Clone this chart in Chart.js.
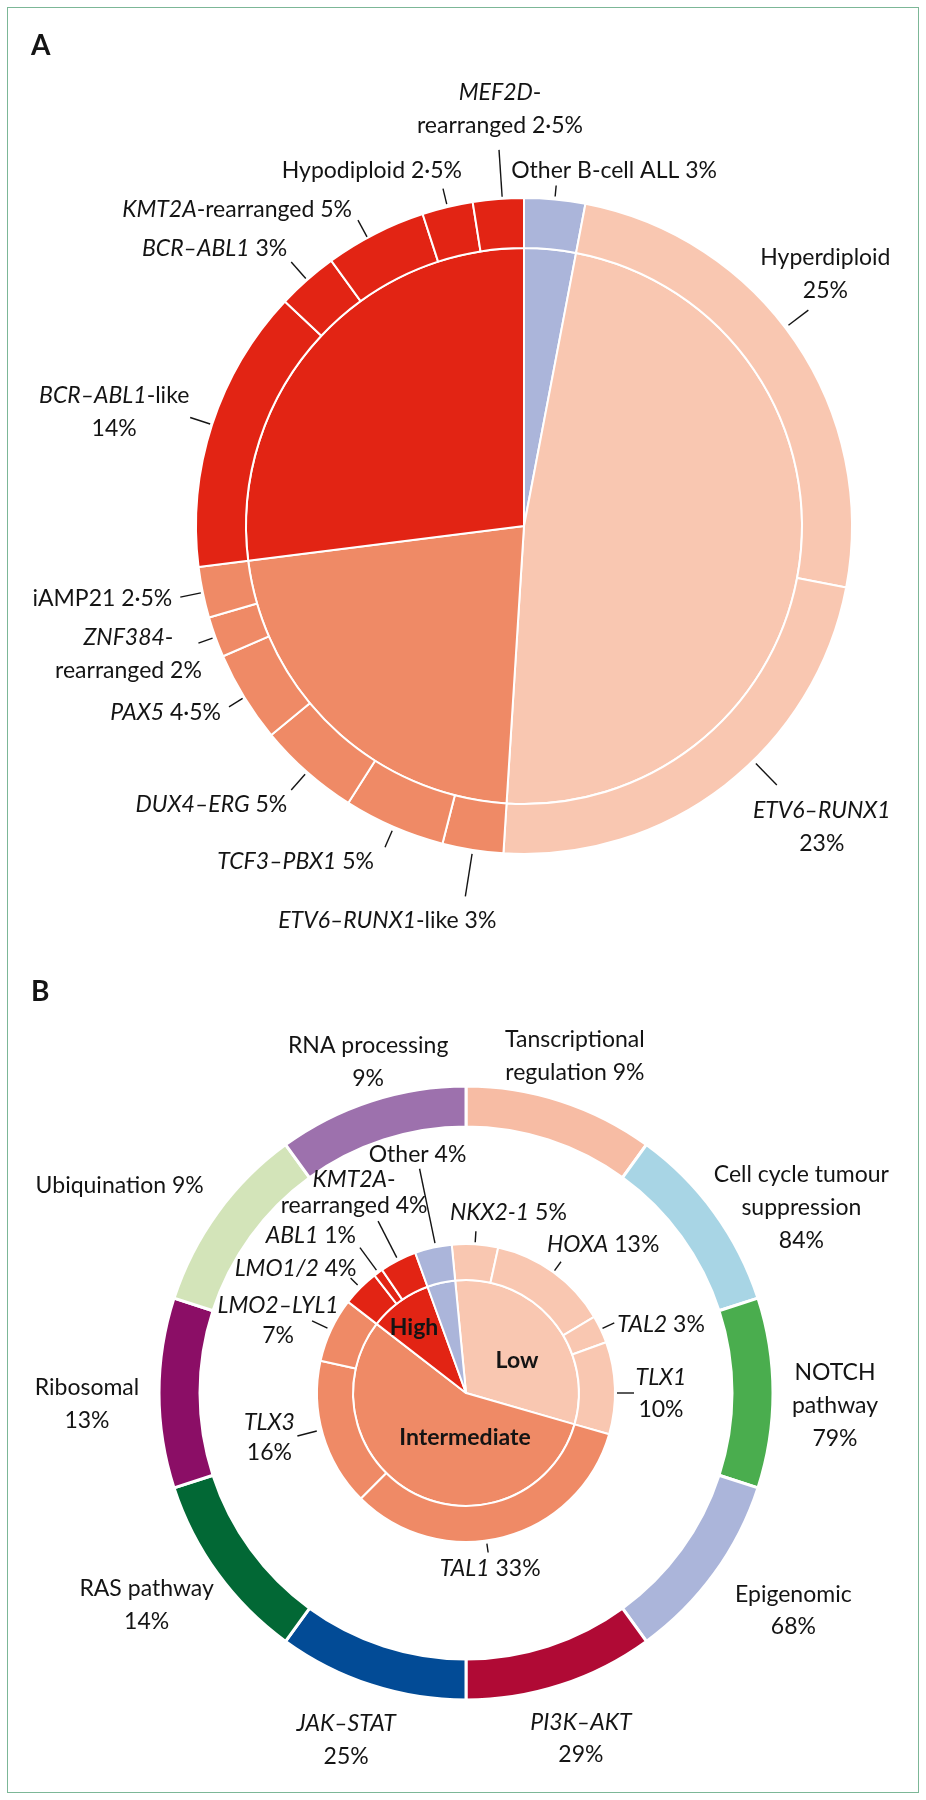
<!DOCTYPE html>
<html>
<head>
<meta charset="utf-8">
<script src="https://cdn.jsdelivr.net/npm/chart.js@4.4.1/dist/chart.umd.min.js"></script>
<style>
  html, body { margin: 0; padding: 0; background: #fff; }
  #page { position: relative; width: 926px; height: 1800px; }
  canvas { position: absolute; left: 0; }
  #frame { position: absolute; left: 7px; top: 7px; width: 912px; height: 1786px;
           border: 1.5px solid #7cb797; box-sizing: border-box; pointer-events: none; }
</style>
</head>
<body>
<div id="page">
  <canvas id="chart-a" width="926" height="960" style="top:0"></canvas>
  <canvas id="chart-b-ring" width="926" height="900" style="top:900px"></canvas>
  <canvas id="chart-b-core" width="926" height="900" style="top:900px"></canvas>
  <div id="frame"></div>
</div>
<script>
// ---- panel A: B-cell ALL subtypes (clockwise from 12 o'clock) ----
// *text* = italic, | = line break
const aSubtypes = ['Other B-cell ALL', 'Hyperdiploid', '*ETV6–RUNX1*', '*ETV6–RUNX1*-like', '*TCF3–PBX1*',
  '*DUX4–ERG*', '*PAX5*', '*ZNF384*-|rearranged', 'iAMP21', '*BCR–ABL1*-like', '*BCR–ABL1*',
  '*KMT2A*-rearranged', 'Hypodiploid', '*MEF2D*-|rearranged'];
const aSubtypePct = [3, 25, 23, 3, 5, 5, 4.5, 2, 2.5, 14, 3, 5, 2.5, 2.5];
const aSubtypeRisk = ['other', 'low', 'low', 'int', 'int', 'int', 'int', 'int', 'int',
  'high', 'high', 'high', 'high', 'high'];
const aRisks = ['other', 'low', 'int', 'high'];
const aRiskPct = [3, 48, 22, 27];

// ---- panel B: T-cell ALL ----
const bPathways = ['Tanscriptional|regulation', 'Cell cycle tumour|suppression', 'NOTCH|pathway', 'Epigenomic',
  '*PI3K–AKT*', '*JAK–STAT*', 'RAS pathway', 'Ribosomal', 'Ubiquination', 'RNA processing'];
const bPathwayPct = [9, 84, 79, 68, 29, 25, 14, 13, 9, 9];
const bPathwaySlots = [1, 1, 1, 1, 1, 1, 1, 1, 1, 1]; // ring sectors are equal
const bSubtypes = ['*NKX2-1*', '*HOXA*', '*TAL2*', '*TLX1*', '*TAL1*', '*TLX3*', '*LMO2–LYL1*',
  '*LMO1/2*', '*ABL1*', '*KMT2A*-|rearranged', 'Other'];
const bSubtypePct = [5, 13, 3, 10, 33, 16, 7, 4, 1, 4, 4];
const bSubtypeRisk = ['low', 'low', 'low', 'low', 'int', 'int', 'int', 'high', 'high', 'high', 'other'];
const bRisks = ['low', 'int', 'high', 'other'];
const bRiskNames = ['Low', 'Intermediate', 'High', ''];
const bRiskPct = [31, 56, 9, 4];

const riskColours = { other: '#abb5da', low: '#f9c7b1', int: '#ef8a66', high: '#e22414' };
const pathwayColours = ['#f7bca4', '#a8d5e5', '#4aad4e', '#abb5da', '#b00a35',
  '#024b96', '#026835', '#8b0e66', '#d3e4b9', '#9d71ad'];

const INK = '#141414';
const FONT = 'Lato, "Open Sans", sans-serif';

function setFont(ctx, italic, size, bold) {
  ctx.font = (italic ? 'italic ' : '') + (bold ? 'bold ' : '') + size + 'px ' + FONT;
}

function drawRich(ctx, str, x, y, align, size, bold) {
  const segs = str.split('*').map((t, i) => {
    setFont(ctx, i % 2 === 1, size, bold);
    return { t: t, it: i % 2 === 1, w: ctx.measureText(t).width };
  });
  const total = segs.reduce((s, g) => s + g.w, 0);
  let cx = align === 'left' ? x : align === 'right' ? x - total : x - total / 2;
  ctx.textAlign = 'left';
  segs.forEach(g => {
    setFont(ctx, g.it, size, bold);
    ctx.fillText(g.t, cx, y);
    cx += g.w;
  });
}

function fmtPct(v) {
  return String(v).replace('.', '·') + '%';
}

function labelLines(name, pct, nl) {
  const parts = name.split('|');
  const last = parts.pop();
  return nl ? parts.concat([last, fmtPct(pct)]) : parts.concat([last + ' ' + fmtPct(pct)]);
}

function arcLabels(cfg) {
  return {
    id: 'arcLabels',
    afterDraw(chart) {
      const ctx = chart.ctx;
      ctx.save();
      ctx.fillStyle = INK;
      ctx.strokeStyle = INK;
      ctx.lineWidth = 1.4;
      ctx.textBaseline = 'alphabetic';
      cfg.sets.forEach(set => {
        const arcs = chart.getDatasetMeta(set.dataset).data;
        set.layout.forEach((it, i) => {
          if (!it) return;
          const p = arcs[i].getProps(['x', 'y', 'startAngle', 'endAngle', 'outerRadius'], true);
          let ax = p.x, ay = p.y;
          if (!set.atCentre) {
            const a = (p.startAngle + p.endAngle) / 2 + (it.da || 0) * Math.PI / 180;
            const c = Math.cos(a), s = Math.sin(a);
            const r1 = p.outerRadius + (it.r1 || 0);
            if (set.leader) {
              const r0 = p.outerRadius + it.r0;
              ctx.beginPath();
              ctx.moveTo(p.x + r0 * c, p.y + r0 * s);
              ctx.lineTo(p.x + r1 * c, p.y + r1 * s);
              ctx.stroke();
            }
            ax = p.x + r1 * c;
            ay = p.y + r1 * s;
          }
          const lines = set.plain ? [set.names[i]] : labelLines(set.names[i], set.values[i], it.nl);
          lines.forEach((ln, k) => drawRich(ctx, ln, ax + it.dx, ay + it.dy + k * (it.lh || set.lh),
            it.align || 'center', set.size, set.bold));
        });
      });
      if (cfg.panel) {
        setFont(ctx, false, 28, true);
        ctx.textAlign = 'left';
        ctx.fillText(cfg.panel.text, cfg.panel.x, cfg.panel.y);
      }
      ctx.restore();
    }
  };
}

const baseOptions = {
  responsive: false,
  animation: false,
  events: [],
  plugins: { legend: { display: false }, tooltip: { enabled: false } }
};

// ---------------- panel A ----------------
new Chart(document.getElementById('chart-a'), {
  type: 'pie',
  data: {
    labels: aSubtypes,
    datasets: [
      { data: aSubtypePct, backgroundColor: aSubtypeRisk.map(r => riskColours[r]),
        borderColor: '#fff', borderWidth: 2, weight: 50 },
      { data: aRiskPct, backgroundColor: aRisks.map(r => riskColours[r]),
        borderColor: '#fff', borderWidth: 2, weight: 278 }
    ]
  },
  options: Object.assign({}, baseOptions, {
    radius: 328,
    layout: { padding: { left: 196, right: 74, top: 198, bottom: 106 } }
  }),
  plugins: [arcLabels({
    panel: { text: 'A', x: 31, y: 55 },
    sets: [{
      dataset: 0, leader: true, names: aSubtypes, values: aSubtypePct, size: 23, lh: 33,
      layout: [
        { r0: 3, r1: 14, dx: -45, dy: -7.5, align: 'left' },
        { da: -3, r0: 4, r1: 29, dx: 17, dy: -45, nl: true },
        { da: -6.5, r0: 4, r1: 34, dx: 45, dy: 33, nl: true },
        { r0: 4, r1: 47, dx: 31, dy: 32, align: 'right' },
        { r0: 4, r1: 22, dx: -11, dy: 22, align: 'right' },
        { r0: 3, r1: 24, dx: -4, dy: 22, align: 'right' },
        { r0: 2, r1: 18, dx: -8, dy: 13, align: 'right' },
        { r0: 3, r1: 18, dx: -70, dy: 2 },
        { r0: 2, r1: 23, dx: -8, dy: 9, align: 'right' },
        { r0: 2, r1: 23, dx: -76, dy: -14.5, nl: true },
        { r0: 2, r1: 24, dx: -4, dy: -6, align: 'right' },
        { da: -1.5, r0: 1, r1: 20, dx: -6, dy: -3, align: 'right' },
        { r0: 3, r1: 19, dx: 19, dy: -11, align: 'right' },
        { da: 0.7, r0: 2, r1: 49, dx: 1, dy: -50 }
      ]
    }]
  })]
});

// ---------------- panel B: pathway ring ----------------
new Chart(document.getElementById('chart-b-ring'), {
  type: 'doughnut',
  data: {
    labels: bPathways,
    datasets: [{ data: bPathwaySlots, backgroundColor: pathwayColours, borderColor: '#fff', borderWidth: 3 }]
  },
  options: Object.assign({}, baseOptions, {
    radius: 307,
    cutout: (266 / 307 * 100) + '%',
    layout: { padding: { left: 159, right: 153, top: 186, bottom: 100 } }
  }),
  plugins: [arcLabels({
    panel: { text: 'B', x: 31, y: 101 },
    sets: [{
      dataset: 0, leader: false, names: bPathways, values: bPathwayPct, size: 23, lh: 33,
      layout: [
        { dx: 14, dy: -54 },
        { dx: 87, dy: -30.5, nl: true },
        { dx: 62, dy: -13, nl: true },
        { dx: 79, dy: 28.5, nl: true, lh: 32 },
        { dx: 20, dy: 45, nl: true, lh: 32 },
        { dx: -25, dy: 46, nl: true },
        { dx: -71, dy: 22.5, nl: true },
        { dx: -72, dy: 2, nl: true },
        { dx: -98, dy: -19.5 },
        { dx: -3, dy: -48, nl: true }
      ]
    }]
  })]
});

// ---------------- panel B: subtype core ----------------
new Chart(document.getElementById('chart-b-core'), {
  type: 'pie',
  data: {
    labels: bSubtypes,
    datasets: [
      { data: bSubtypePct, backgroundColor: bSubtypeRisk.map(r => riskColours[r]),
        borderColor: '#fff', borderWidth: 2, weight: 36 },
      { data: bRiskPct, backgroundColor: bRisks.map(r => riskColours[r]),
        borderColor: '#fff', borderWidth: 2, weight: 113 }
    ]
  },
  options: Object.assign({}, baseOptions, {
    radius: 149,
    rotation: -5.5,
    layout: { padding: { left: 159, right: 153, top: 186, bottom: 100 } }
  }),
  plugins: [arcLabels({
    sets: [{
      dataset: 0, leader: true, names: bSubtypes, values: bSubtypePct, size: 23, lh: 33,
      layout: [
        { r0: 2, r1: 13, dx: -26, dy: -11, align: 'left' },
        { r0: 2, r1: 13, dx: -14, dy: -10, align: 'left' },
        { r0: 2, r1: 15, dx: 3, dy: 9, align: 'left' },
        { da: 1.9, r0: 2, r1: 19, dx: 27, dy: -8, nl: true, lh: 32 },
        { da: 6.6, r0: 3, r1: 12, dx: 2, dy: 23.5 },
        { da: 2, r0: 5, r1: 25, dx: -28, dy: -6, nl: true, lh: 30 },
        { r0: 4, r1: 21, dx: -34, dy: -8, nl: true, lh: 30 },
        { r0: 4, r1: 14, dx: 6, dy: -2, align: 'right' },
        { r0: 3, r1: 31, dx: -4, dy: -5, align: 'right' },
        { r0: 3, r1: 44, dx: -24, dy: -34, lh: 26 },
        { da: 1, r0: 4, r1: 80, dx: -2, dy: -7 }
      ]
    }, {
      dataset: 1, atCentre: true, plain: true, names: bRiskNames, size: 23, bold: true, lh: 30,
      layout: [
        { dx: 51, dy: -25 },
        { dx: -1, dy: 52 },
        { dx: -52, dy: -58 },
        null
      ]
    }]
  })]
});
</script>
</body>
</html>
